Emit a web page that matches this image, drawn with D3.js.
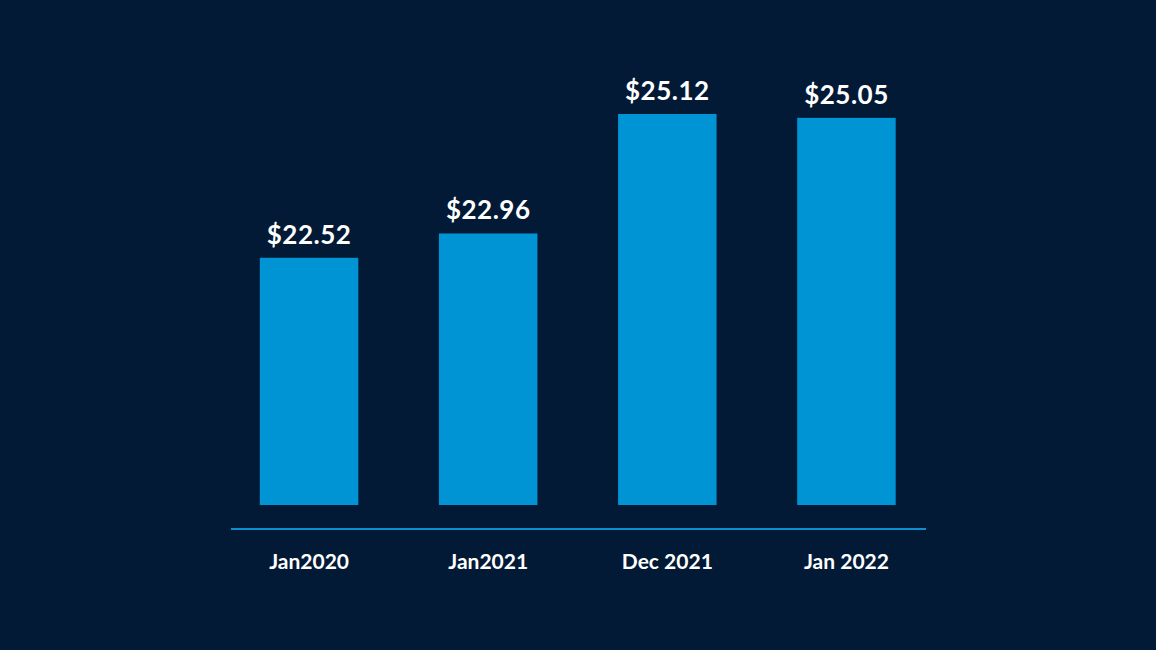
<!DOCTYPE html>
<html>
<head>
<meta charset="utf-8">
<script src="https://cdn.jsdelivr.net/npm/d3@7"></script>
<style>
  html, body { margin: 0; padding: 0; background: #021a36; }
  svg { display: block; }
</style>
</head>
<body>
<svg id="chart" width="1156" height="650"></svg>
<script>
const categories = ['Jan2020', 'Jan2021', 'Dec 2021', 'Jan 2022'];
const values = [22.52, 22.96, 25.12, 25.05];

const svg = d3.select('#chart');
svg.append('rect').attr('width', 1156).attr('height', 650).attr('fill', '#021a36');

const x = d3.scaleBand()
  .domain(categories)
  .range([219.5, 936])
  .paddingInner(0.45)
  .paddingOuter(0.225);

// baseline is not zero in the original, bars start near 18
const y = d3.scaleLinear()
  .domain([18.05, 25.12])
  .range([505, 114]);

const data = categories.map((c, i) => ({ c, v: values[i] }));

svg.selectAll('.bar')
  .data(data)
  .enter()
  .append('rect')
  .attr('class', 'bar')
  .attr('x', d => x(d.c))
  .attr('width', x.bandwidth())
  .attr('y', d => y(d.v))
  .attr('height', d => 505 - y(d.v))
  .attr('fill', '#0094d4');

svg.selectAll('.val')
  .data(data)
  .enter()
  .append('text')
  .attr('x', d => x(d.c) + x.bandwidth() / 2)
  .attr('y', d => y(d.v) - 14)
  .attr('text-anchor', 'middle')
  .attr('fill', '#ffffff')
  .attr('font-family', 'Lato, "Open Sans", sans-serif')
  .attr('font-weight', 'bold')
  .attr('font-size', 26)
  .attr('letter-spacing', 0.5)
  .text(d => `$${d.v.toFixed(2)}`);

svg.append('line')
  .attr('x1', 231).attr('x2', 926)
  .attr('y1', 529).attr('y2', 529)
  .attr('stroke', '#0a8fd0')
  .attr('stroke-width', 2);

svg.selectAll('.cat')
  .data(categories)
  .enter()
  .append('text')
  .attr('x', d => x(d) + x.bandwidth() / 2)
  .attr('y', 569)
  .attr('text-anchor', 'middle')
  .attr('fill', '#ffffff')
  .attr('font-family', 'Lato, "Open Sans", sans-serif')
  .attr('font-weight', 'bold')
  .attr('font-size', 21)
  .text(d => d);
</script>
</body>
</html>
